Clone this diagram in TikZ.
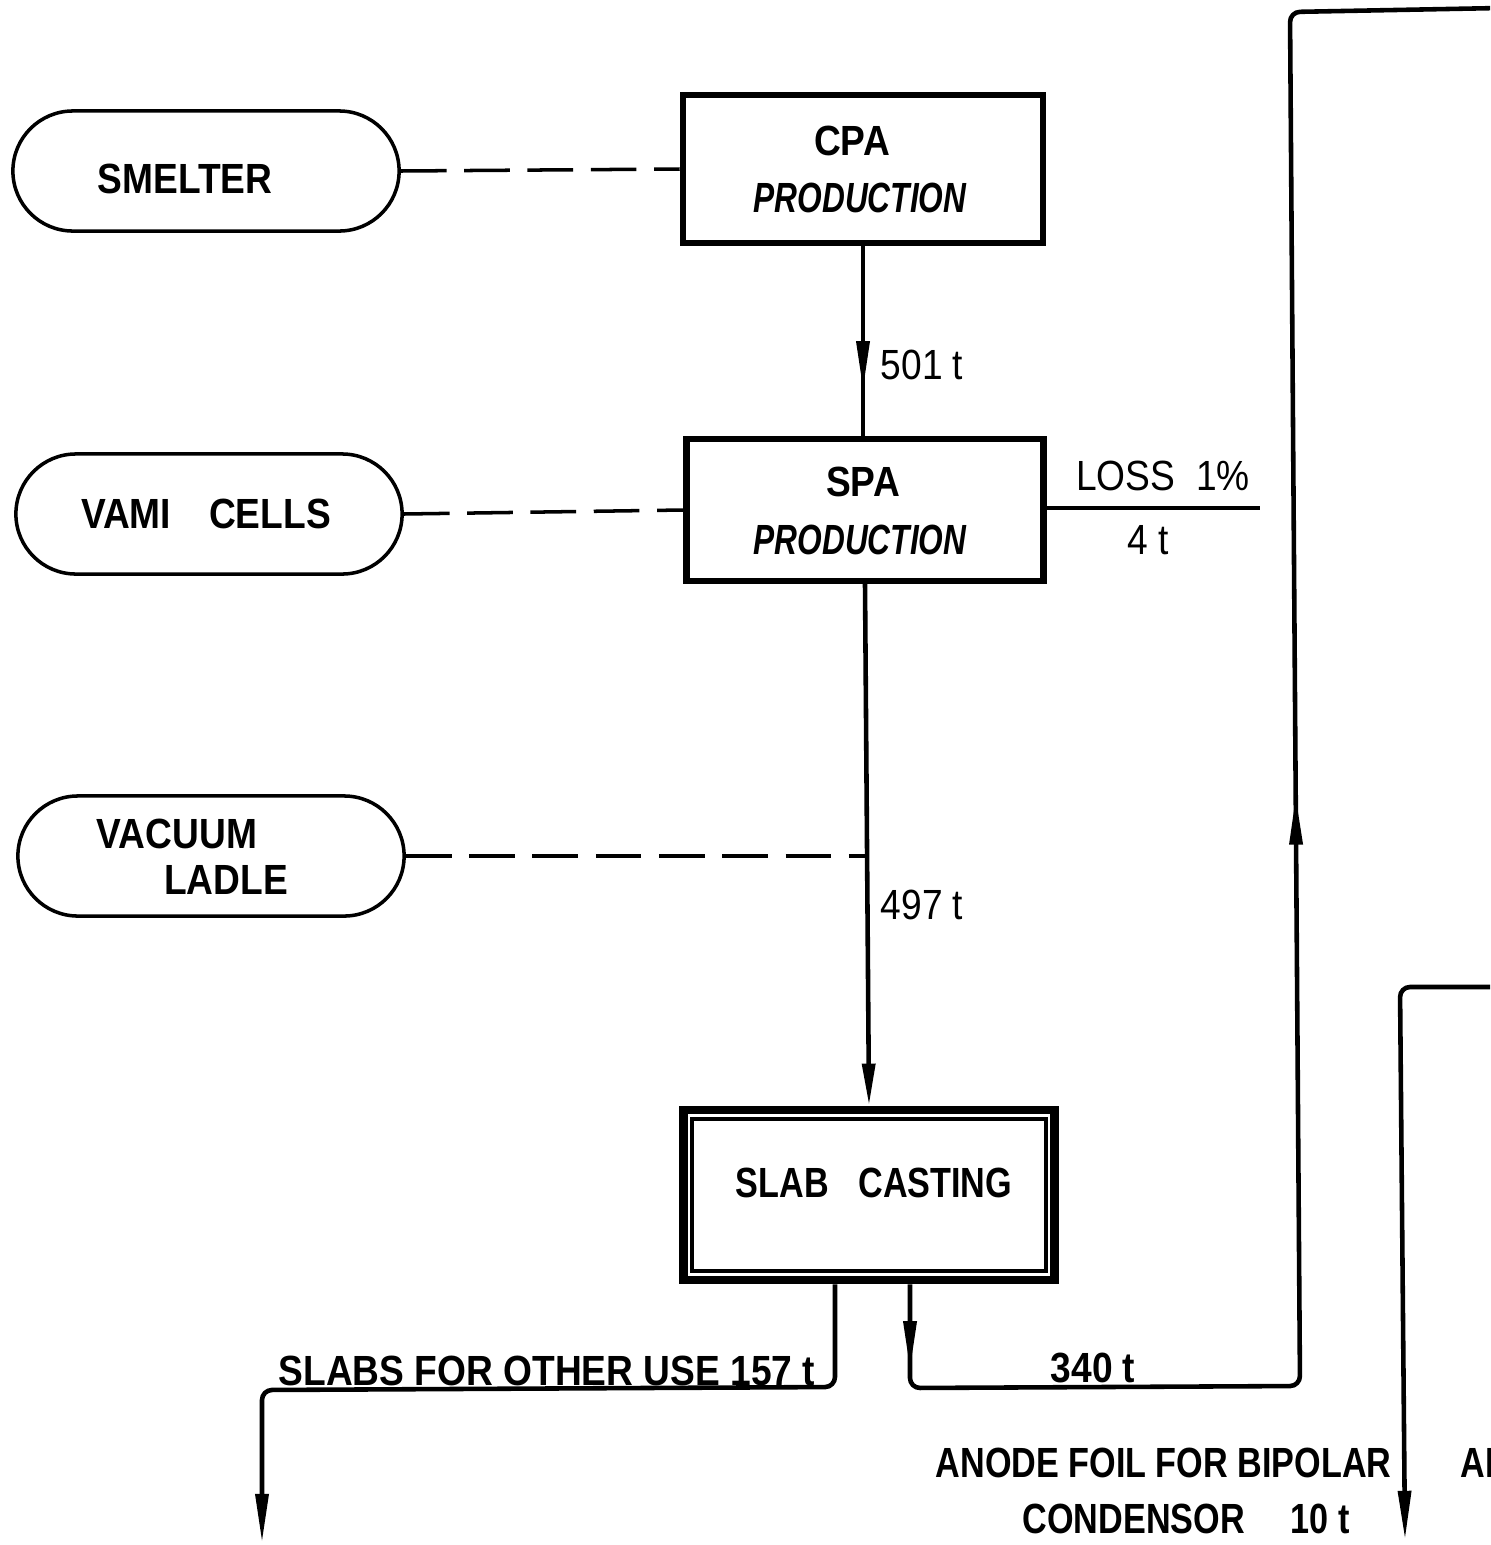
\documentclass[tikz,border=0pt]{standalone}
\usepackage{fontspec}
\setmainfont{Liberation Sans}[FakeStretch=0.88]
\newfontfamily\handfont{Liberation Sans}[FakeStretch=0.75]
\newfontfamily\narrowfont{Liberation Sans}[FakeStretch=0.81]
\usetikzlibrary{arrows.meta,decorations.markings,calc}
\tikzset{
  tipA/.tip={Triangle[length=14pt,width=3.6pt]},
  oval/.style={draw, line width=1pt, rounded corners=0.6cm, minimum width=3.86cm, minimum height=1.2cm, inner sep=0pt},
  procbox/.style={draw, line width=1.8pt, inner sep=0pt},
  flow/.style={line width=1.3pt},
  feed/.style={line width=1pt, dash pattern=on 13pt off 5pt},
  lbl/.style={inner sep=0pt, font=\fontsize{12}{14}\selectfont\bfseries},
  nlbl/.style={inner sep=0pt, font=\narrowfont\fontsize{12}{14}\selectfont\bfseries},
  num/.style={inner sep=0pt, font=\fontsize{12}{14}\selectfont},
  hand/.style={inner sep=0pt, font=\handfont\fontsize{12}{14}\selectfont\bfseries\itshape},
  midarrow/.style={postaction={decorate}, decoration={markings, mark=at position #1 with {\arrow{tipA}}}}
}
\begin{document}
\begin{tikzpicture}[x=0.01cm,y=-0.01cm]
\useasboundingbox (0,0) rectangle (1490,1545);
\fill[white] (0,0) rectangle (1490,1545);
\clip (0,0) rectangle (1490,1545);

% sources
\node[oval] (smelter) at (206,171) {};
\node[lbl] (smelterT) at (185,179) {SMELTER};
\node[oval] (vami) at (209,514) {};
\node[lbl] (vamiT) at (206,514) {VAMI\hspace{0.9em}CELLS};
\node[oval] (vacuum) at (211,856) {};
\node[lbl] (vacuumT1) at (177,834) {VACUUM};
\node[lbl] (vacuumT2) at (226,880) {LADLE};

% process boxes
\node[procbox, minimum width=3.6cm, minimum height=1.48cm] (cpa) at (863,169) {};
\node[lbl] (cpaT) at (852,141) {CPA};
\node[hand] (cpaP) at (860,198) {PRODUCTION};
\node[procbox, minimum width=3.57cm, minimum height=1.42cm] (spa) at (865,510) {};
\node[lbl] (spaT) at (863,482) {SPA};
\node[hand] (spaP) at (860,540) {PRODUCTION};
\node[draw, line width=2.4pt, minimum width=3.71cm, minimum height=1.70cm, inner sep=0pt] (slab) at (869,1195) {};
\draw[line width=1.2pt] ([shift={(13,13)}]slab.north west) rectangle ([shift={(-13,-13)}]slab.south east);
\node[nlbl] (slabT) at (874,1183) {SLAB\hspace{0.7em}CASTING};

% dashed feeds
\draw[feed] (smelter.east) -- (cpa.west);
\draw[feed] (vami.east) -- (spa.west);
\coordinate (j) at (spa.south |- vacuum.east);
\draw[feed] (vacuum.east) -- (j);

% main flow
\draw[flow, midarrow=1.44cm] (cpa.south) -- (cpa.south |- spa.north);
\draw[flow, -{Triangle[length=12pt,width=3.6pt]}] (spa.south) -- (slab.north);
\node[num, anchor=west] (f501) at (880,365) {501 t};
\node[num, anchor=west] (f497) at (880,905) {497 t};

% loss
\coordinate (lossend) at (1260,508);
\draw[line width=1pt] (spa.east |- lossend) -- (lossend);
\node[num] (lossT) at (1163,476) {LOSS\hspace{0.5em}1\%};
\node[num] (lossV) at (1148,540) {4 t};

% outputs of slab casting
\coordinate (s1) at ([xshift=-0.34cm]slab.south);
\coordinate (s2) at ([xshift=0.41cm]slab.south);
\coordinate (outL) at (262,1543);
\draw[flow, rounded corners=0.1cm, -tipA] (s1) -- (835,1387) -- (262,1390) -- (outL);
\coordinate (outTop) at (1500,8);
\draw[flow, rounded corners=0.1cm, postaction={decorate},
  decoration={markings, mark=at position 0.86cm with {\arrow{tipA}}, mark=at position 10.75cm with {\arrow{tipA}}}]
  (s2) -- (910,1388) -- (1300,1386) -- (1290,12) -- (outTop);
\coordinate (inR) at (1500,987);
\coordinate (outR) at (1405,1540);
\draw[flow, rounded corners=0.1cm, -tipA] (inR) -- (1400,987) -- (outR);

% labels
\node[lbl, anchor=base west] (slabsT) at (278,1385) {SLABS FOR OTHER USE 157 t};
\node[lbl, anchor=base west] (t340) at (1050,1382) {340 t};
\node[nlbl, anchor=base west] (anode1) at (935,1477) {ANODE FOIL FOR BIPOLAR};
\node[nlbl, anchor=base west] (cond) at (1022,1533) {CONDENSOR};
\node[nlbl, anchor=base west] (ten) at (1290,1533) {10 t};
\node[nlbl, anchor=base west] (anode2) at (1460,1477) {ANODE};
\end{tikzpicture}
\end{document}
